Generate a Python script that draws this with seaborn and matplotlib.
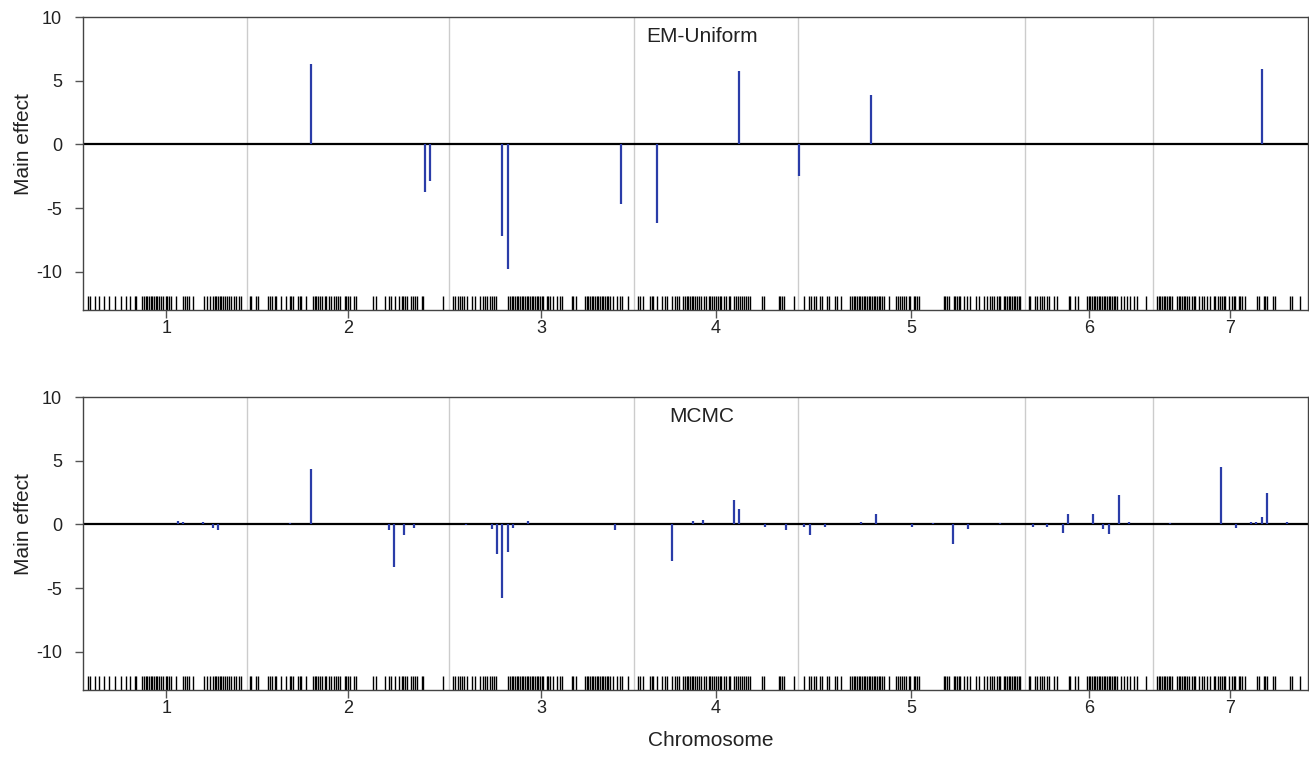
import numpy as np
import matplotlib
matplotlib.use("Agg")
import matplotlib.pyplot as plt
import seaborn as sns

# chromosome lengths (cM) and labels
chrom_names = ["1", "2", "3", "4", "5", "6", "7"]
chrom_lengths = [161, 202, 185, 164, 227, 128, 154]

# marker positions within each chromosome (cM)
chr1_markers = [2, 4, 9, 13, 18, 23, 29, 35, 40, 44, 49, 50, 56, 58, 60, 61, 63, 65, 66, 68, 70, 71, 73, 75,
                77, 80, 81, 83, 85, 90, 97, 99, 101, 103, 107, 118, 121, 124, 127, 129, 130, 132, 134, 135,
                137, 139, 141, 143, 145, 148, 150, 153, 155]
chr2_markers = [2.7, 4.3, 9.3, 11, 21, 22.7, 25.3, 27.7, 29.3, 34.3, 39.3, 42.7, 44.3, 46, 51, 52.7, 54.3,
                58.7, 66, 67.7, 69.3, 71, 73.3, 75.3, 77.7, 79.3, 82, 84.3, 86.7, 89.3, 91, 92.7, 97.7, 99.3,
                101, 102.7, 106.7, 108.7, 126, 129.3, 137.7, 142, 144.5, 148, 152.3, 154.7, 156.3, 158,
                159.7, 163.7, 166.3, 168, 169.7, 174.7, 176.3, 196.3]
chr3_markers = [4.3, 6, 9.3, 11, 12.7, 15, 17.7, 22.7, 26, 31, 33.7, 36, 37.7, 41, 42.7, 45, 47, 59.3, 61,
                62.7, 64.3, 66, 67.7, 69.3, 71, 72.7, 74.3, 76, 77.7, 79.3, 81, 82.7, 84.3, 86, 87.7, 89.3,
                91, 92.7, 94.3, 97.7, 99.3, 101, 104.3, 107.7, 111, 112.7, 122.7, 124.3, 127, 136, 137.7,
                139.3, 141, 142.7, 144.3, 146, 147.7, 149.3, 151, 152.7, 154.3, 156, 157.7, 159.3, 161,
                163.7, 167.7, 171, 172.7, 179.3]
chr4_markers = [4.3, 6, 9.3, 16, 17.7, 19.3, 22.7, 27.7, 31, 32.7, 37.7, 41, 42.7, 45.3, 49.3, 51, 52.7,
                54.3, 56, 57.7, 59.3, 61, 62.7, 64.7, 67, 69.7, 72.3, 74.7, 76.3, 78, 80.3, 82.3, 83.7,
                85.7, 87, 89.7, 92.3, 94.7, 96.3, 99.7, 102.3, 103.7, 106.3, 108, 110.3, 112.3, 113.7,
                115.7, 128, 129.7, 144.7, 146.3, 148, 149.7, 159.7]
chr5_markers = [5.7, 10.7, 13, 15.7, 18.3, 22.3, 24, 29, 30.7, 37.3, 39, 43, 52.3, 54, 55.7, 57.3, 59, 60.7,
                62.3, 64, 65.7, 67.3, 69, 70.7, 72.3, 74, 75.7, 77.3, 79, 80.7, 82.3, 84, 85.7, 90.7, 98.3,
                100, 102.3, 104, 106.3, 108.3, 110.7, 112.3, 115.7, 117.3, 119, 120.7, 145.7, 147.3, 149,
                150.7, 155.7, 157.3, 159, 160.7, 162.3, 165.7, 169, 172.3, 178.3, 180.7, 185.7, 189,
                192.3, 194, 195.7, 199, 200.7, 202.3, 205.7, 207.3, 209, 210.7, 212.3, 214, 215.7, 217.3,
                219, 220.7, 222.3]
chr6_markers = [3.7, 5.3, 10.3, 12, 15.3, 17, 18.7, 22, 23.7, 28.7, 32, 43.7, 45.3, 50.3, 53, 62, 63.7,
                65.3, 67, 68.7, 70.3, 72, 73.7, 75.3, 77, 78.7, 80.3, 82, 83.7, 85.3, 87, 88.7, 90.3, 92,
                96.3, 98.7, 102, 105.3, 108.7, 112, 121]
chr7_markers = [4, 5.7, 7.3, 9, 10.7, 12.3, 14, 15.7, 17.3, 19, 24, 25.7, 27.3, 29, 30.7, 32.3, 34, 35.7,
                39, 40.7, 42.3, 45.7, 49, 50.7, 54, 57.3, 60.7, 62.3, 65, 67.3, 69, 70.7, 72.3, 75.7, 79,
                80.7, 82.3, 85.7, 87.3, 89, 91.7, 104, 105.7, 110.7, 112.3, 114, 119.7, 122.3, 137.3,
                139, 147.3]

# EM-Uniform main effects: chromosome, position (cM), effect
em_chrom = [2, 2, 2, 3, 3, 3, 4, 4, 5, 5, 7]
em_pos = [64.3, 178, 183, 53.3, 58.7, 171.7, 23, 105.3, 1.3, 73.3, 108.7]
em_effect = [6.35, -3.7, -2.9, -7.2, -9.8, -4.7, -6.15, 5.75, -2.5, 3.85, 5.9]

# MCMC main effects
mcmc_chrom = [1, 1, 1, 1, 1, 2, 2, 2, 2, 2, 2, 3, 3, 3, 3, 3, 3, 3, 3,
              4, 4, 4, 4, 4, 4, 4, 5, 5, 5, 5, 5, 5, 5, 5, 5, 5,
              6, 6, 6, 6, 6, 6, 6, 6, 6, 7, 7, 7, 7, 7, 7, 7, 7]
mcmc_pos = [91.7, 96.7, 117.3, 127, 132.3, 43.3, 64.3, 141.7, 146.7, 157.3, 167.3,
            17, 43.3, 48, 53.3, 58.7, 64, 79.3, 166.3,
            38.3, 59, 69.3, 100.3, 105.3, 131.3, 152,
            6.3, 11.7, 27, 63, 78.3, 114.3, 135, 155.3, 170.3, 201.7,
            7.7, 22.3, 38, 43, 68.3, 78.3, 83.7, 94, 104.3,
            17, 68, 83, 98.3, 103.3, 108.7, 113.7, 134]
mcmc_effect = [0.3, 0.2, 0.2, -0.3, -0.4, 0.1, 4.36, -0.47, -3.3, -0.84, -0.24,
               -0.05, -0.39, -2.28, -5.75, -2.18, -0.31, 0.29, -0.47,
               -2.89, 0.24, 0.37, 1.92, 1.18, -0.18, -0.45,
               -0.18, -0.79, -0.2, 0.21, 0.79, -0.2, 0.13, -1.55, -0.39, 0.13,
               -0.16, -0.16, -0.63, 0.84, 0.84, -0.39, -0.71, 2.34, 0.18,
               0.1, 4.49, -0.29, 0.18, 0.21, 0.6, 2.49, 0.21]

# cumulative genome coordinates
offsets = np.concatenate([[0], np.cumsum(chrom_lengths)[:-1]])
mids = offsets + np.array(chrom_lengths) / 2
all_markers = [chr1_markers, chr2_markers, chr3_markers, chr4_markers,
               chr5_markers, chr6_markers, chr7_markers]
markers = np.concatenate([np.array(m) + offsets[i] for i, m in enumerate(all_markers)])


def genome_x(chroms, pos):
    return np.array([offsets[c - 1] + p for c, p in zip(chroms, pos)])


sns.set_style("white")
plt.rcParams["font.family"] = ["Liberation Sans", "DejaVu Sans"]

fig = plt.figure(figsize=(13.09, 7.6), dpi=100)
ax_top = fig.add_axes([0.0634, 0.592, 0.9358, 0.3855])
ax_bot = fig.add_axes([0.0634, 0.092, 0.9358, 0.3855])

panels = [(ax_top, "EM-Uniform", em_chrom, em_pos, em_effect),
          (ax_bot, "MCMC", mcmc_chrom, mcmc_pos, mcmc_effect)]

for ax, title, ch, pos, eff in panels:
    # chromosome boundaries
    for b in offsets[1:]:
        ax.axvline(b, color="#cccccc", lw=1, zorder=0)
    ax.axhline(0, color="black", lw=1.6, zorder=2)
    ax.vlines(genome_x(ch, pos), 0, eff, color="#2a3ca8", lw=1.6, zorder=3)
    # marker rug
    sns.rugplot(x=markers, height=0.047, color="black", linewidth=1.0,
                expand_margins=False, ax=ax)
    ax.set_xlim(-3, 1222)
    ax.set_ylim(-13, 10)
    ax.set_yticks([-10, -5, 0, 5, 10])
    ax.set_yticklabels(["-10", "-5", "0", "5", "10"])
    ax.set_xticks(mids)
    ax.set_xticklabels(chrom_names)
    ax.tick_params(axis="both", labelsize=13, color="#555555", labelcolor="#222222",
                   width=1, direction="out")
    ax.tick_params(axis="x", length=6, pad=1.5, bottom=True)
    ax.tick_params(axis="y", length=6, pad=9, left=True)
    for s in ax.spines.values():
        s.set_color("#444444")
        s.set_linewidth(1)
    ax.set_ylabel("Main effect", fontsize=15, color="#222222")
    ax.yaxis.set_label_coords(-0.041, 0.565)
    ax.text(0.505, 0.933, title, transform=ax.transAxes, ha="center", va="center",
            fontsize=15, color="#222222")

fig.text(711 / 1309, 1 - 740 / 760, "Chromosome", ha="center", va="center",
         fontsize=15, color="#222222")

fig.savefig("out.png", dpi=100)
